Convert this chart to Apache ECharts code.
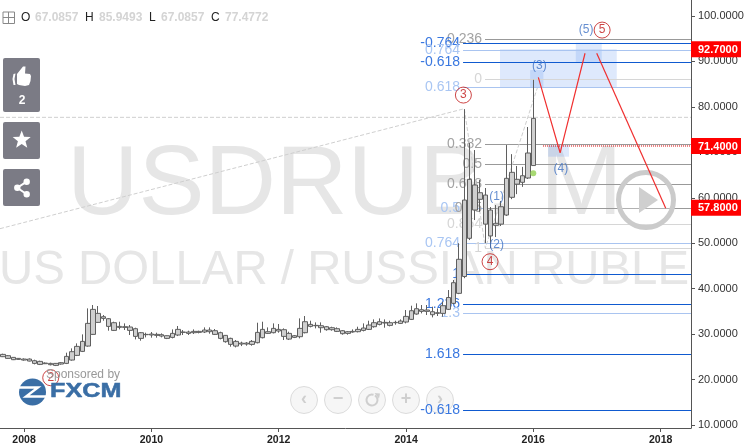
<!DOCTYPE html>
<html><head><meta charset="utf-8">
<style>html,body{margin:0;padding:0;background:#fff}#c{width:747px;height:447px}</style>
<script src="https://cdn.jsdelivr.net/npm/echarts@6/dist/echarts.min.js"></script>
</head><body><div id="c"></div>
<script>
const axisStart='2007-08-16', axisEnd='2018-06-24';
const yMin=9.34, yMax=103.52;
const yTicks=[10,20,30,40,50,60,70,80,90,100];
const xTicks=['2008-01-01','2010-01-01','2012-01-01','2014-01-01','2016-01-01','2018-01-01'];
const firstYear=2007, firstMonth=9;
const bodyTop=[25.54,25.25,24.88,24.66,24.51,24.51,24.15,24.0,23.63,23.56,23.56,23.71,25.1,26.13,27.3,28.4,32.36,35.44,34.56,33.83,33.39,32.51,31.7,31.63,31.56,31.19,30.31,29.94,30.02,29.94,29.87,29.65,30.16,31.04,30.46,30.46,30.6,30.6,30.9,30.9,30.75,30.31,29.72,29.06,28.4,28.03,28.03,28.4,30.38,31.04,30.53,31.26,31.04,30.97,30.16,29.65,31.26,32.73,32.14,31.92,31.85,31.63,31.41,31.19,30.75,30.53,30.6,31.04,31.34,32.0,32.51,32.73,32.58,32.51,32.58,32.88,33.9,35.15,35.59,35.37,35.3,34.93,34.71,36.25,38.05,41.31,46.46,59.5,64.06,62.81,61.11,60.6,57.3,54.38,58.03,64.28,65.6,64.06,64.85,69.85,77.47];
const bodyBottom=[25.03,24.66,24.37,24.44,24.29,24.07,23.56,23.34,23.49,23.27,23.12,23.41,23.56,24.29,25.32,26.2,27.37,29.94,32.58,33.46,31.7,30.82,31.48,31.48,30.82,29.5,29.06,29.87,29.8,29.72,29.57,29.06,29.28,29.8,30.38,30.16,30.31,30.38,30.46,30.53,29.94,29.06,28.33,27.74,27.37,27.81,27.81,27.74,28.11,29.21,30.16,30.31,30.68,29.5,28.91,29.28,29.43,30.31,31.7,31.85,31.41,30.97,30.97,30.6,30.09,30.16,30.46,30.53,30.82,31.04,31.63,32.14,32.44,31.92,32.51,32.36,32.66,33.24,34.42,35.0,35.0,34.27,34.56,34.56,35.45,36.77,38.97,42.67,51.08,57.3,59.66,54.2,51.6,53.94,54.2,56.2,60.1,63.0,63.4,64.35,67.09];
const lows=[24.95,24.59,24.29,24.37,24.15,24.0,23.34,23.19,23.41,23.12,22.97,23.27,23.41,24.15,25.17,26.05,27.23,29.8,32.44,32.95,30.75,30.68,31.04,30.9,29.8,28.84,28.55,29.28,29.21,29.21,29.28,28.91,29.06,29.57,29.8,29.8,30.02,30.16,30.24,30.09,29.8,28.84,28.11,27.23,27.08,27.37,27.45,27.45,27.96,29.06,30.02,30.16,30.31,28.7,28.7,29.13,29.06,30.16,31.48,31.26,30.31,30.75,30.75,30.46,29.87,29.87,30.31,30.38,30.6,30.9,31.41,31.92,31.41,31.7,32.07,32.22,32.36,33.1,34.27,34.56,34.2,33.68,33.98,33.83,35.3,36.6,38.8,42.3,50.7,55.1,56.9,50.04,48.94,51.36,53.78,56.0,59.7,60.8,62.4,64.13,67.09];
const highs=[25.69,25.39,24.95,24.73,24.66,24.66,24.37,24.15,23.78,23.71,23.63,23.85,25.91,26.86,27.96,29.94,35.66,36.4,36.18,34.2,33.54,32.73,32.73,32.36,32.0,31.41,30.46,30.31,30.46,30.31,30.16,29.72,31.04,31.78,30.9,30.75,31.04,30.75,31.48,31.48,31.12,30.53,29.8,29.21,28.7,28.33,28.25,28.7,32.51,32.73,31.48,32.36,32.22,31.26,30.53,29.8,33.46,33.98,32.95,32.58,32.58,31.78,31.63,31.48,30.9,30.68,31.04,31.63,32.36,32.95,33.24,33.46,33.24,32.95,32.95,33.24,35.3,36.25,36.77,36.4,36.4,36.03,35.66,37.13,39.7,41.9,50.0,79.5,72.05,70.5,63.9,62.15,57.96,58.4,59.28,71.6,69.6,67.0,66.8,75.57,85.95];

const fibLabels=['0.236','-0.764','0.764','-0.618','0','0.618','0.382','0.5','0.618','0.5','0.75','0.854','0.764','1','1','1.236','1.3','1.618','-0.618'];
const fibValues=[94.87,93.99,92.58,89.81,86.07,84.31,71.77,67.36,62.97,57.68,57.68,54.2,50.0,48.94,43.15,36.55,34.54,25.55,13.2];
const fibKinds=['g','b','l','b','p','l','g','g','g','l','g','p','l','p','b','b','l','b','b'];
const kindColor={g:'#999999',p:'#d6d6d6',b:'#0f5ad0',l:'#a9c4f0'};
const kindText={g:'#a3a3a3',p:'#d6d6d6',b:'#3a78e0',l:'#a9c6f3'};
const blueStart='2014-11-24', greyStart='2015-03-30';

const zoneRects=[['2015-06-24','2017-04-24',92.67,84.3],['2016-09-01','2017-01-28',94.12,89.81],['2015-12-14','2016-02-28',88.1,84.3],['2016-03-26','2016-07-24',71.6,69.04]];
const redA=[['2016-01-30',86.5],['2016-06-03',69.9],['2016-10-24',91.8]];
const redB=[['2016-12-30',91.8],['2018-01-30',57.68]];
const zigzag=[['2007-08-16',53.2],['2014-12-01',79.6],['2015-04-01',48.94],['2016-01-24',84.15]];
const flatDash=[[axisStart,77.7],[axisEnd,77.7]];
const dottedRed=[['2016-02-26',71.4],[axisEnd,71.4]];
const priceTags=[92.7,71.4,57.8];
const circled=[['3','2014-11-26',82.6],['5','2017-01-30',96.9],['4','2015-04-28',45.93],['2','2008-06-02',20.4]];
const waveLabels=[['(1)','2015-06-05',60.23],['(2)','2015-06-05',49.76],['(3)','2016-02-05',89.0],['(4)','2016-06-07',66.48],['(5)','2016-10-30',96.9]];
const greenDot=[['2016-01-01',65.38]];
const ohlcHeader=[['O',21,'k'],['67.0857',35,'v'],['H',85,'k'],['85.9493',99,'v'],['L',149,'k'],['67.0857',161,'v'],['C',211,'k'],['77.4772',225,'v']];

const T=s=>Date.parse(s);
const pts=a=>a.map(p=>[T(p[0]),p[1]]);
function monthDate(i){const m=firstMonth-1+i;const y=firstYear+Math.floor(m/12);const mm=m%12+1;return y+'-'+(mm<10?'0':'')+mm+'-01';}
const candles=bodyTop.map((t,i)=>[T(monthDate(i)),bodyBottom[i],t,lows[i],highs[i]]);

const FONT='"Liberation Sans",Arial,sans-serif';
const btn='#7b7b85';
function starPts(cx,cy,R,r){const p=[];for(let i=0;i<10;i++){const a=-Math.PI/2+i*Math.PI/5,q=i%2?r:R;p.push([cx+q*Math.cos(a),cy+q*Math.sin(a)]);}return p;}
const graphics=[
 {type:'text',z:0,x:67,y:187,style:{text:'USDRUB, M',font:'99px '+FONT,fill:'#e6e6e6',verticalAlign:'middle'}},
 {type:'text',z:0,x:-1,y:271,style:{text:'US DOLLAR / RUSSIAN RUBLE',font:'47.4px '+FONT,fill:'#e6e6e6',verticalAlign:'middle'}},
 {type:'rect',z:60,shape:{x:692,y:428.5,width:55,height:19},style:{fill:'#fff'}},
 {type:'rect',z:90,shape:{x:3,y:58,width:37,height:54,r:2},style:{fill:btn}},
 {type:'polygon',z:91,shape:{points:[[17,74],[23,66.5],[25.5,66.5],[25,73.5],[30,74],[31,76],[30.5,81],[29,85],[25,86],[19,85],[17,84]]},style:{fill:'#fff'}},
 {type:'polygon',z:91,shape:{points:[[13.5,74],[15.5,73.5],[14.5,79],[15.5,85],[13.5,85],[12.5,79]]},style:{fill:'#fff'}},
 {type:'text',z:91,x:22,y:101,style:{text:'2',font:'bold 12px '+FONT,fill:'#fff',align:'center',verticalAlign:'middle'}},
 {type:'rect',z:90,shape:{x:3,y:122,width:37,height:37,r:2},style:{fill:btn}},
 {type:'polygon',z:91,shape:{points:starPts(21.7,140,9.5,4)},style:{fill:'#fff'}},
 {type:'rect',z:90,shape:{x:3,y:169,width:37,height:37,r:2},style:{fill:btn}},
 {type:'polyline',z:91,shape:{points:[[26.7,181.7],[17.3,187.7],[26.7,194.3]]},style:{stroke:'#fff',lineWidth:2,fill:null}},
 {type:'circle',z:91,shape:{cx:26.7,cy:181.7,r:3.2},style:{fill:'#fff'}},
 {type:'circle',z:91,shape:{cx:17.3,cy:187.7,r:3.2},style:{fill:'#fff'}},
 {type:'circle',z:91,shape:{cx:26.7,cy:194.3,r:3.2},style:{fill:'#fff'}},
 {type:'rect',z:90,shape:{x:3,y:12,width:11.5,height:11.5},style:{fill:'#fff',stroke:'#888',lineWidth:1}},
 {type:'line',z:91,shape:{x1:8.5,y1:12,x2:8.5,y2:23.5},style:{stroke:'#888',lineWidth:1}},
 {type:'line',z:91,shape:{x1:3,y1:17.5,x2:14.5,y2:17.5},style:{stroke:'#888',lineWidth:1}},
 {type:'text',z:40,x:46,y:375,style:{text:'Sponsored by',font:'12px '+FONT,fill:'#999',verticalAlign:'middle'}},
 {type:'circle',z:40,shape:{cx:32.5,cy:392,r:13.5},style:{fill:'#3a6ea5'}},
 {type:'polyline',z:41,shape:{points:[[19,387.5],[38,387.5],[26,396.5],[46,396.5]]},style:{stroke:'#fff',lineWidth:2.4,fill:null}},
 {type:'text',z:40,x:50,y:391,scaleX:1.2,style:{text:'FXCM',font:'bold 21px '+FONT,fill:'#3a6ea5',verticalAlign:'middle',stroke:'#3a6ea5',lineWidth:.5}},
 {type:'circle',z:2.5,shape:{cx:646,cy:200,r:27.5},style:{fill:'rgba(255,255,255,.25)',stroke:'#cbcbcb',lineWidth:5}},
 {type:'polygon',z:2.5,shape:{points:[[639,187],[658,200],[639,213]]},style:{fill:'#cfcfcf'}},
];
ohlcHeader.forEach(h=>graphics.push({type:'text',z:90,x:h[1],y:18,style:{text:h[0],font:(h[2]==='k'?'':'bold ')+'12px '+FONT,fill:h[2]==='k'?'#222':'#d4d4d4',verticalAlign:'middle'}}));
[['‹',304],['−',338],['⟳',372],['+',406],['›',440]].forEach(b=>{
 graphics.push({type:'circle',z:1.2,shape:{cx:b[1],cy:400,r:13.5},style:{fill:'rgba(245,245,245,.85)',stroke:'#dcdcdc',lineWidth:1}});
 if(b[0]==='⟳'){
  graphics.push({type:'arc',z:1.3,shape:{cx:b[1],cy:400,r:5.5,startAngle:-1.0,endAngle:5.0},style:{stroke:'#cfcfcf',lineWidth:2,fill:null}});
  graphics.push({type:'polygon',z:1.3,shape:{points:[[b[1]+2.5,393],[b[1]+8,393.5],[b[1]+7,398.5]]},style:{fill:'#cfcfcf'}});
 } else graphics.push({type:'text',z:1.3,x:b[1],y:399.5,style:{text:b[0],font:'bold 18px '+FONT,fill:'#cfcfcf',align:'center',verticalAlign:'middle'}});
});

const chart=echarts.init(document.getElementById('c'),null,{renderer:'canvas'});
chart.setOption({
 animation:false,backgroundColor:'#fff',
 grid:{left:0,right:56,top:0,bottom:19,containLabel:false},
 xAxis:{type:'value',min:T(axisStart),max:T(axisEnd),scale:true,
  axisLine:{onZero:false,lineStyle:{color:'#555',width:1}},
  axisTick:{length:4,lineStyle:{color:'#555'},customValues:xTicks.map(T)},
  axisLabel:{customValues:xTicks.map(T),formatter:v=>String(new Date(v).getUTCFullYear()),color:'#222',fontFamily:FONT,fontSize:10.5,fontWeight:'bold',margin:7,hideOverlap:false},
  splitLine:{show:false}},
 yAxis:{type:'value',position:'right',min:yMin,max:yMax,scale:true,
  axisLine:{show:true,onZero:false,lineStyle:{color:'#555',width:1}},
  axisTick:{show:true,length:4,lineStyle:{color:'#555'},customValues:yTicks},
  axisLabel:{customValues:yTicks,formatter:v=>v.toFixed(4),color:'#333',fontFamily:FONT,fontSize:11,margin:7,hideOverlap:false},
  splitLine:{show:false}},
 graphic:graphics,
 series:[
  {type:'custom',name:'zones',z:1,coordinateSystem:'cartesian2d',silent:true,encode:{x:[0,1],y:[2,3]},
   data:zoneRects.map(r=>[T(r[0]),T(r[1]),r[2],r[3]]),
   renderItem:(p,api)=>{const a=api.coord([api.value(0),api.value(2)]),b=api.coord([api.value(1),api.value(3)]);
    return {type:'rect',shape:{x:a[0],y:a[1],width:b[0]-a[0],height:b[1]-a[1]},style:{fill:'rgba(80,140,240,0.19)'}};}},
  {type:'custom',name:'fib',z:1.5,coordinateSystem:'cartesian2d',silent:true,encode:{x:0,y:1},
   data:fibValues.map((v,i)=>[T((fibKinds[i]==='b'||fibKinds[i]==='l')?blueStart:greyStart),v]),
   renderItem:(p,api)=>{const i=p.dataIndex,k=fibKinds[i],a=api.coord([api.value(0),api.value(1)]),cs=p.coordSys;
    const y=Math.round(a[1])+0.5;
    return {type:'group',children:[
     {type:'line',shape:{x1:a[0],y1:y,x2:cs.x+cs.width,y2:y},style:{stroke:kindColor[k],lineWidth:1}},
     {type:'text',style:{text:fibLabels[i],x:a[0]-3,y:y,fill:kindText[k],font:'14px '+FONT,align:'right',verticalAlign:'middle'}}]};}},
  {type:'line',z:1.8,data:pts(zigzag),showSymbol:false,symbol:'none',silent:true,lineStyle:{color:'#cfcfcf',width:1,type:'dashed'}},
  {type:'line',z:1.8,data:pts(flatDash),showSymbol:false,symbol:'none',silent:true,lineStyle:{color:'#cfcfcf',width:1,type:'dashed'}},
  {type:'candlestick',z:2,data:candles,barWidth:5,silent:true,
   itemStyle:{color:'#cfcfcf',color0:'#cfcfcf',borderColor:'#5f5f5f',borderColor0:'#5f5f5f',borderColorDoji:'#5f5f5f',borderWidth:1}},
  {type:'line',z:3,data:pts(dottedRed),showSymbol:false,symbol:'none',silent:true,lineStyle:{color:'#d40000',width:1,type:'dotted'}},
  {type:'line',z:3,data:pts(redA),showSymbol:false,symbol:'none',silent:true,lineStyle:{color:'#f03030',width:1.2}},
  {type:'line',z:3,data:pts(redB),showSymbol:false,symbol:'none',silent:true,lineStyle:{color:'#f03030',width:1.2}},
  {type:'scatter',z:4,data:pts(greenDot),symbolSize:6,silent:true,itemStyle:{color:'#92d050'}},
  {type:'scatter',z:4,silent:true,symbolSize:16,data:circled.map(c=>({value:[T(c[1]),c[2]],name:c[0]})),
   itemStyle:{color:'rgba(255,255,255,0)',borderColor:'#c01818',borderWidth:1},
   label:{show:true,position:'inside',formatter:p=>p.name,color:'#c01818',fontFamily:FONT,fontSize:12}},
  {type:'scatter',z:4,silent:true,symbolSize:1,data:waveLabels.map(c=>({value:[T(c[1]),c[2]],name:c[0]})),
   itemStyle:{color:'rgba(255,255,255,0)'},
   label:{show:true,position:'inside',formatter:p=>p.name,color:'#3f72c4',fontFamily:FONT,fontSize:12}},
  {type:'custom',name:'tags',z:50,coordinateSystem:'cartesian2d',silent:true,encode:{x:0,y:1},
   data:priceTags.map(v=>[T(axisEnd),v]),
   renderItem:(p,api)=>{const a=api.coord([api.value(0),api.value(1)]),cs=p.coordSys,x=cs.x+cs.width;
    return {type:'group',children:[
     {type:'rect',shape:{x:x,y:a[1]-8,width:50,height:16},style:{fill:'#ff0000'}},
     {type:'text',style:{text:api.value(1).toFixed(4),x:x+7,y:a[1]+.5,fill:'#fff',font:'bold 11px '+FONT,align:'left',verticalAlign:'middle'}}]};}},
 ]
});
</script></body></html>
